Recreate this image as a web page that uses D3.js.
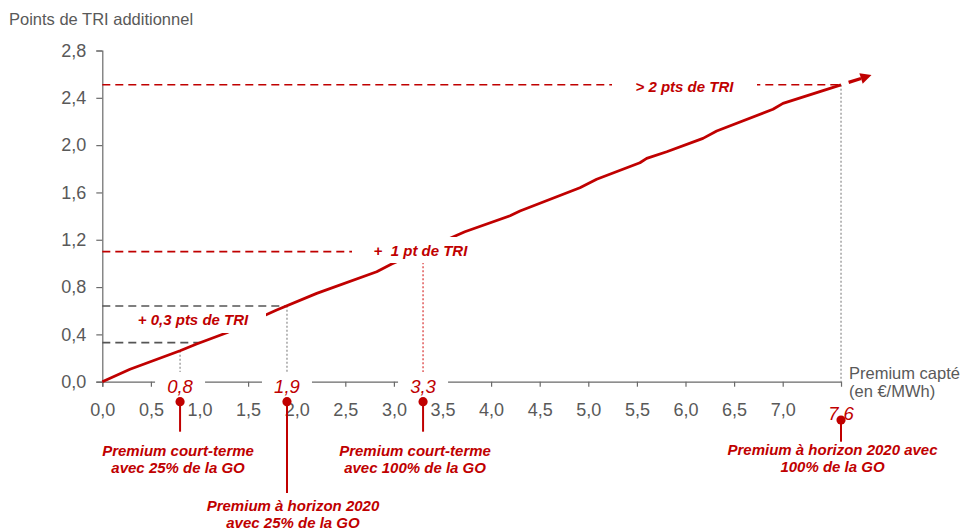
<!DOCTYPE html>
<html>
<head>
<meta charset="utf-8">
<script src="https://cdn.jsdelivr.net/npm/d3@7"></script>
<style>
  html, body { margin: 0; padding: 0; background: #fff; }
  svg { display: block; font-family: "Liberation Sans", Arial, sans-serif; }
  .annot { white-space: pre; }
</style>
</head>
<body>
<svg id="chart" width="962" height="529"></svg>
<script>
// Premium captured (€/MWh) vs additional IRR points
const premium = [0, 0.285, 0.80, 0.97, 1.28, 1.794, 2.206, 2.823, 2.977, 3.73, 4.195, 4.297, 4.914, 5.086, 5.531, 5.601, 5.807, 6.18, 6.321, 6.90, 7.003, 7.6];
const triPoints = [0, 0.105, 0.262, 0.319, 0.414, 0.606, 0.747, 0.930, 0.995, 1.268, 1.403, 1.443, 1.64, 1.711, 1.851, 1.888, 1.944, 2.057, 2.119, 2.303, 2.353, 2.51];

const xTicks = [0, 0.5, 1, 1.5, 2, 2.5, 3, 3.5, 4, 4.5, 5, 5.5, 6, 6.5, 7];
const yTicks = [0, 0.4, 0.8, 1.2, 1.6, 2.0, 2.4, 2.8];

// Premium scenarios marked on the x axis
const scenarioValues = [0.8, 1.9, 3.3, 7.6];
const scenarioLabels = ["0,8", "1,9", "3,3", "7,6"];
const scenarioNotes = [
  ["Premium court-terme", "avec 25% de la GO"],
  ["Premium à horizon 2020", "avec 25% de la GO"],
  ["Premium court-terme", "avec 100% de la GO"],
  ["Premium à horizon 2020 avec", "100% de la GO"]
];

// IRR gain levels
const gainLevels = [0.33, 0.64, 1.10, 2.51];
const gainLabels = ["+ 0,3 pts de TRI", "", "+  1 pt de TRI", "> 2 pts de TRI"];

const RED = "#c00000";
const GREY_TXT = "#595959";
const AXIS = "#6a6a6a";

const svg = d3.select("#chart");

const x = d3.scaleLinear().domain([0, 7.6]).range([102.3, 102.3 + 7.6 * 97.2]);
const y = d3.scaleLinear().domain([0, 2.8]).range([381.7, 50.5]);
const fmt = v => d3.format(".1f")(v).replace(".", ",");

// value of the curve at a given premium (linear between points)
function curveAt(v) {
  for (let i = 1; i < premium.length; i++) {
    if (v <= premium[i]) {
      const t = (v - premium[i - 1]) / (premium[i] - premium[i - 1]);
      return triPoints[i - 1] + t * (triPoints[i] - triPoints[i - 1]);
    }
  }
  return triPoints[triPoints.length - 1];
}
// premium at which the curve reaches a given level
function premiumAt(level) {
  for (let i = 1; i < triPoints.length; i++) {
    if (level <= triPoints[i]) {
      const t = (level - triPoints[i - 1]) / (triPoints[i] - triPoints[i - 1]);
      return premium[i - 1] + t * (premium[i] - premium[i - 1]);
    }
  }
  return premium[premium.length - 1];
}

// ---- axes ----
const xAxis = svg.append("g")
  .attr("transform", `translate(0,${y(0)})`)
  .call(d3.axisBottom(x).tickValues(xTicks).tickSize(5).tickSizeOuter(5).tickPadding(17).tickFormat(fmt));
const yAxis = svg.append("g")
  .attr("transform", `translate(${x(0)},0)`)
  .call(d3.axisLeft(y).tickValues(yTicks).tickSize(6).tickSizeOuter(6).tickPadding(10).tickFormat(fmt));
[xAxis, yAxis].forEach(g => {
  g.selectAll("path, line").attr("stroke", AXIS).attr("stroke-width", 1.2);
  g.selectAll("text").attr("fill", GREY_TXT).style("font-size", "18px")
    .style("font-family", "'Liberation Sans', Arial, sans-serif");
});

// axis titles
svg.append("text").attr("x", 9).attr("y", 25)
  .attr("fill", GREY_TXT).style("font-size", "16.5px").text("Points de TRI additionnel");
svg.append("text").attr("x", 849).attr("y", 379)
  .attr("fill", GREY_TXT).style("font-size", "16.5px").text("Premium capté");
svg.append("text").attr("x", 849).attr("y", 397)
  .attr("fill", GREY_TXT).style("font-size", "16.5px").text("(en €/MWh)");

// ---- guide lines ----
const guides = svg.append("g");
// horizontal gain levels
const levelEnds = [premiumAt(gainLevels[0]), scenarioValues[1], scenarioValues[2], scenarioValues[3]];
const levelColors = ["#555", "#555", RED, RED];
gainLevels.forEach((lv, i) => {
  guides.append("line")
    .attr("x1", x(0)).attr("x2", x(levelEnds[i]))
    .attr("y1", y(lv)).attr("y2", y(lv))
    .attr("stroke", levelColors[i]).attr("stroke-width", 1.6)
    .attr("stroke-dasharray", "8,5");
});
// vertical drops from the curve to each scenario
scenarioValues.forEach((v, i) => {
  const isRed = i === 2;
  guides.append("line")
    .attr("x1", x(v)).attr("x2", x(v))
    .attr("y1", y(curveAt(v))).attr("y2", y(0))
    .attr("stroke", isRed ? "#e05a5a" : "#8c8c8c")
    .attr("stroke-width", isRed ? 1.5 : 1.2)
    .attr("stroke-dasharray", "2,2");
});

// ---- curve ----
const line = d3.line().x((d, i) => x(premium[i])).y(d => y(d));
svg.append("path").datum(triPoints)
  .attr("d", line)
  .attr("fill", "none").attr("stroke", RED).attr("stroke-width", 2.8)
  .attr("stroke-linejoin", "round");

// dashed arrow extending the curve
{
  const n = premium.length;
  const x0 = x(premium[n - 2]), y0 = y(triPoints[n - 2]);
  const x1 = x(premium[n - 1]), y1 = y(triPoints[n - 1]);
  const len = Math.hypot(x1 - x0, y1 - y0);
  const ux = (x1 - x0) / len, uy = (y1 - y0) / len;
  const px = -uy, py = ux;
  const a = 8, b = 21, tip = 32, hw = 5.5;
  svg.append("line")
    .attr("x1", x1 + ux * a).attr("y1", y1 + uy * a)
    .attr("x2", x1 + ux * b).attr("y2", y1 + uy * b)
    .attr("stroke", RED).attr("stroke-width", 3.2);
  const bx = x1 + ux * b, by = y1 + uy * b;
  svg.append("path")
    .attr("d", `M${x1 + ux * tip},${y1 + uy * tip}L${bx + px * hw},${by + py * hw}L${bx - px * hw},${by - py * hw}Z`)
    .attr("fill", RED);
}

// ---- gain level labels (white backing) ----
const gainBoxes = [
  { rect: [130, 309, 136, 24], cx: 193, by: 324.5 },
  null,
  { rect: [352, 237, 118, 26], cx: 420.5, by: 255.5 },
  { rect: [612, 74, 145, 24], cx: 684.5, by: 92 }
];
gainLabels.forEach((t, i) => {
  const b = gainBoxes[i];
  if (!b || !t) return;
  svg.append("rect").attr("x", b.rect[0]).attr("y", b.rect[1])
    .attr("width", b.rect[2]).attr("height", b.rect[3]).attr("fill", "#fff");
  svg.append("text").attr("class", "annot")
    .attr("x", b.cx).attr("y", b.by).attr("text-anchor", "middle")
    .attr("fill", RED).style("font-size", "15px")
    .style("font-weight", "bold").style("font-style", "italic").text(t);
});

// ---- scenario markers ----
const scenarioLayout = [
  { labelY: 393, circleY: 401.7, stemEnd: 431.7, noteY: 455.5, noteDx: -2, box: true },
  { labelY: 393, circleY: 401.7, stemEnd: 493, noteY: 510.5, noteDx: 6, box: true },
  { labelY: 393, circleY: 401.7, stemEnd: 431.7, noteY: 455.5, noteDx: -8, box: true },
  { labelY: 420, circleY: 420, stemEnd: 441.7, noteY: 454.5, noteDx: -8.5, box: false }
];
scenarioValues.forEach((v, i) => {
  const L = scenarioLayout[i];
  const cx = x(v);
  if (L.box) {
    svg.append("rect").attr("x", cx - 25).attr("y", 372).attr("width", 50).attr("height", 25).attr("fill", "#fff");
  }
  svg.append("text").attr("x", cx).attr("y", L.labelY).attr("text-anchor", "middle")
    .attr("fill", RED).style("font-size", "18.5px").style("font-style", "italic")
    .text(scenarioLabels[i]);
  svg.append("line").attr("x1", cx).attr("x2", cx)
    .attr("y1", L.circleY).attr("y2", L.stemEnd)
    .attr("stroke", RED).attr("stroke-width", 2);
  svg.append("circle").attr("cx", cx).attr("cy", L.circleY).attr("r", 4.6).attr("fill", RED);
  scenarioNotes[i].forEach((t, j) => {
    svg.append("text").attr("x", cx + L.noteDx).attr("y", L.noteY + j * 17)
      .attr("text-anchor", "middle").attr("fill", RED)
      .style("font-size", "15px").style("font-weight", "bold").style("font-style", "italic")
      .text(t);
  });
});
</script>
</body>
</html>
